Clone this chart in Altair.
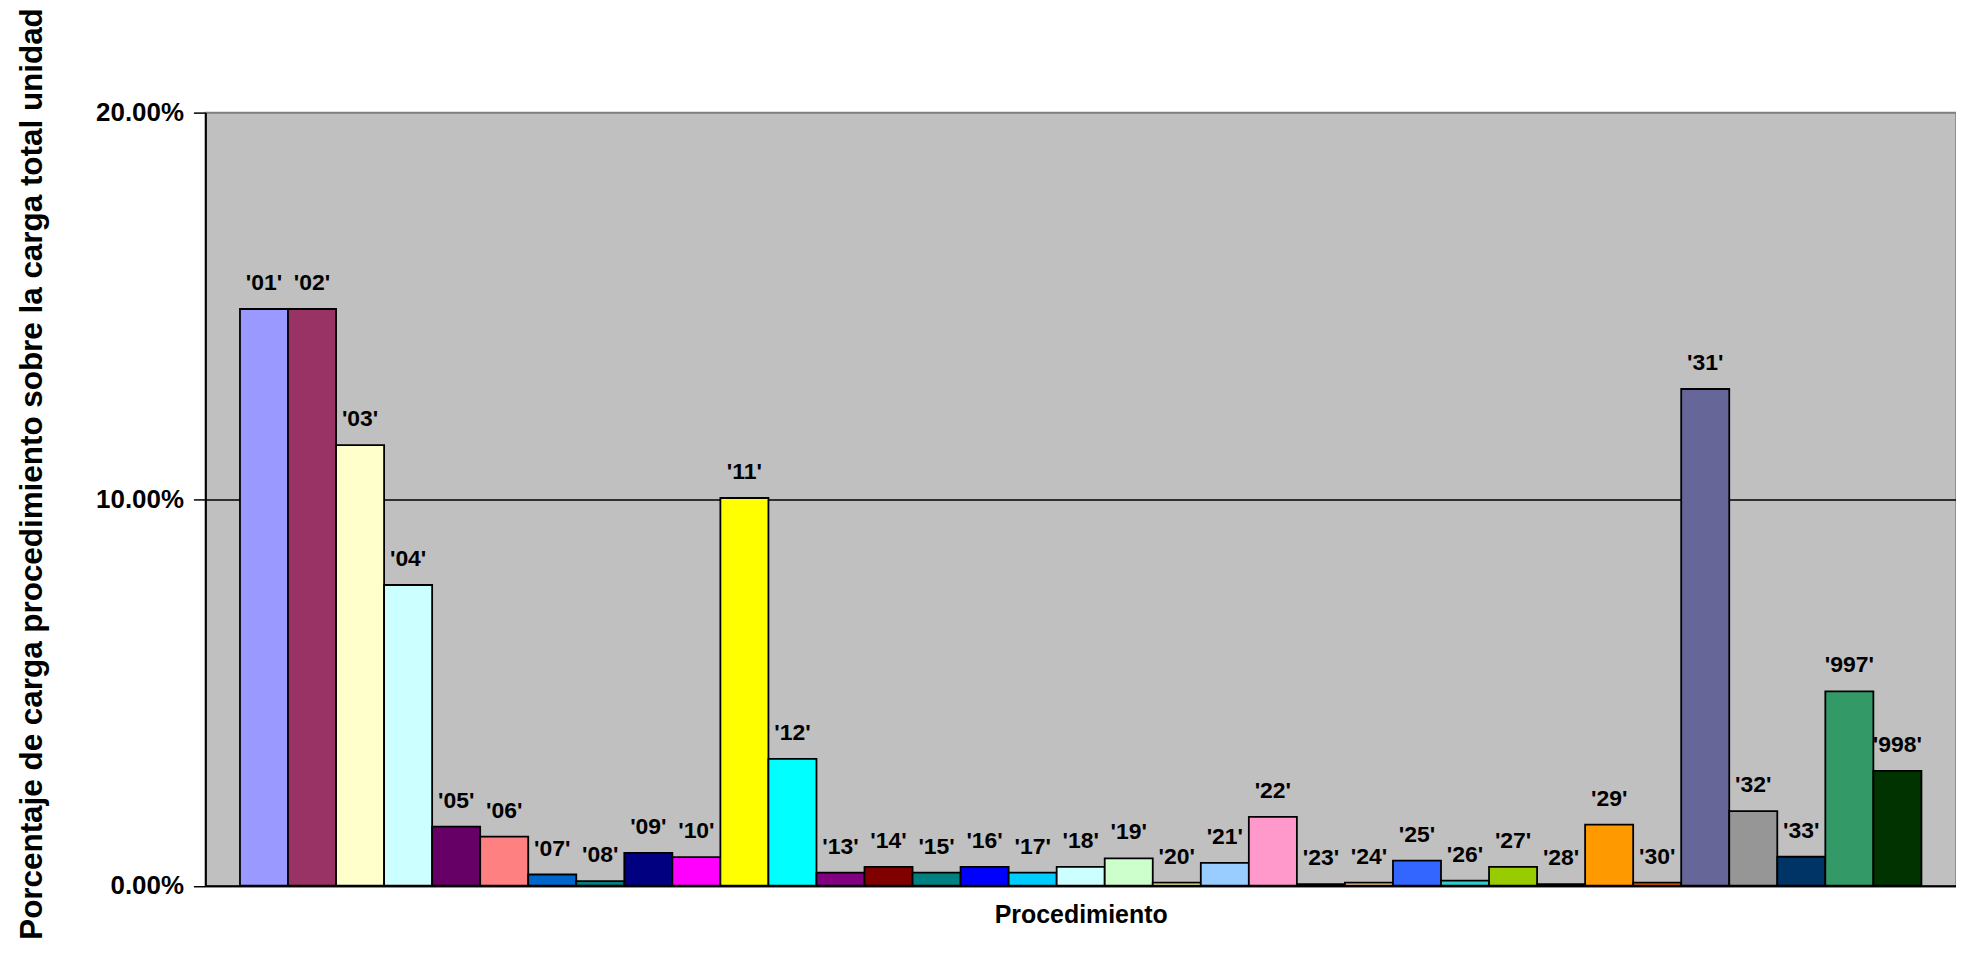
import altair as alt
import pandas as pd

categories = ["01", "02", "03", "04", "05", "06", "07", "08", "09", "10",
              "11", "12", "13", "14", "15", "16", "17", "18", "19", "20",
              "21", "22", "23", "24", "25", "26", "27", "28", "29", "30",
              "31", "32", "33", "997", "998"]
values_pct = [14.92, 14.92, 11.40, 7.78, 1.53, 1.27, 0.29, 0.12, 0.85, 0.74,
              10.03, 3.28, 0.34, 0.49, 0.34, 0.49, 0.34, 0.49, 0.71, 0.08,
              0.59, 1.78, 0.04, 0.08, 0.65, 0.13, 0.49, 0.04, 1.58, 0.08,
              12.85, 1.93, 0.75, 5.03, 2.97]
colors = ["#9999FF", "#993366", "#FFFFCC", "#CCFFFF", "#660066", "#FF8080",
          "#0066CC", "#008080", "#000080", "#FF00FF", "#FFFF00", "#00FFFF",
          "#800080", "#800000", "#008080", "#0000FF", "#00CCFF", "#CCFFFF",
          "#CCFFCC", "#FFFF99", "#99CCFF", "#FF99CC", "#CC99FF", "#FFCC99",
          "#3366FF", "#33CCCC", "#99CC00", "#FFCC00", "#FF9900", "#FF6600",
          "#666699", "#969696", "#003366", "#339966", "#003300"]
labels = ["'" + c + "'" for c in categories]

df = pd.DataFrame({
    "cat": categories,
    "val": [v / 100 for v in values_pct],
    "label": labels,
})

FONT = "Liberation Sans"

x_enc = alt.X(
    "cat:N", sort=categories,
    scale=alt.Scale(paddingInner=0, paddingOuter=0.72),
    axis=alt.Axis(labels=False, ticks=False, grid=False,
                  domainColor="black", domainWidth=2,
                  title="Procedimiento", titleFont=FONT, titleFontSize=25,
                  titleFontWeight="bold", titleColor="black",
                  titleBaseline="alphabetic", titleY=37),
)
y_enc = alt.Y(
    "val:Q",
    scale=alt.Scale(domain=[0, 0.2], nice=False),
    axis=alt.Axis(values=[0, 0.1, 0.2], format=".2%",
                  grid=True,
                  gridColor={"condition": {"test": "datum.value === 0.1", "value": "black"},
                             "value": "#808080"},
                  gridWidth=1.5,
                  domainColor="black", domainWidth=2,
                  tickColor="black", tickSize=12, tickWidth=1.5,
                  labelFont=FONT, labelFontSize=26, labelFontWeight="bold",
                  labelColor="black", labelPadding=10,
                  title="Porcentaje de carga procedimiento sobre la carga total unidad",
                  titleFont=FONT, titleFontSize=31.5, titleFontWeight="bold",
                  titleColor="black", titleAngle=270, titleBaseline="alphabetic",
                  titleAlign="center", titleX=-164, titleY=362),
)

bars = alt.Chart(df).mark_bar(stroke="black", strokeWidth=1.8).encode(
    x=x_enc,
    y=y_enc,
    color=alt.Color("cat:N", sort=categories,
                    scale=alt.Scale(domain=categories, range=colors),
                    legend=None),
)

text = alt.Chart(df).mark_text(
    font=FONT, fontSize=23, fontWeight="bold", color="black",
    baseline="alphabetic", dy=-19,
).encode(
    x=x_enc,
    y=y_enc,
    text="label:N",
)

chart = alt.layer(bars, text).properties(
    width=1756, height=775.5,
    autosize=alt.AutoSizeParams(type="none"),
    padding={"left": 198, "top": 103.5, "right": 0, "bottom": 52},
    background="white",
).configure_view(
    fill="#C0C0C0", stroke="#808080", strokeWidth=1.5,
)

chart.save("out.html", embed_options={"renderer": "svg", "actions": False})
